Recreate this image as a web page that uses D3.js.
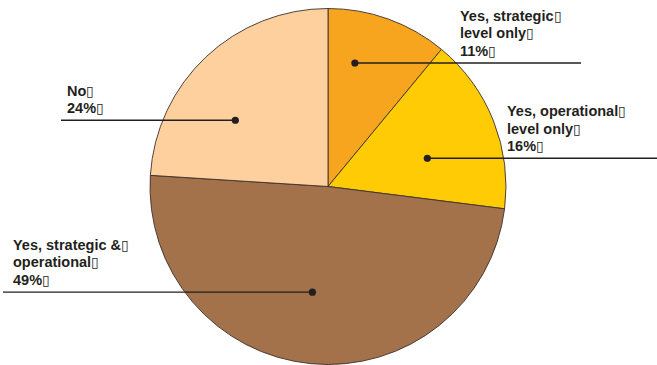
<!DOCTYPE html>
<html><head><meta charset="utf-8">
<script src="https://cdn.jsdelivr.net/npm/d3@7"></script>
<style>html,body{margin:0;padding:0;background:#fff;}svg{display:block;}</style>
</head><body><svg id="c" width="657" height="365"></svg>
<script>
const categories = ["Yes, strategic level only", "Yes, operational level only", "Yes, strategic & operational", "No"];
const values = [11, 16, 49, 24];
const labelLines = [
  ["Yes, strategic", "level only", "11%"],
  ["Yes, operational", "level only", "16%"],
  ["Yes, strategic &", "operational", "49%"],
  ["No", "24%"]
];
const colors = ["#F7A51E", "#FFCB05", "#A3714A", "#FDD09D"];

// layout of leader lines: position of dot inside slice (fraction of angle, fraction of radius),
// line end x, text x
const layout = [
  {fa: 0.31, fr: 0.71, lineEnd: 581, textX: 460},
  {fa: 0.60, fr: 0.58, lineEnd: 657, textX: 507},
  {fa: 0.517, fr: 0.60, lineEnd: 3, textX: 13},
  {fa: 0.37, fr: 0.64, lineEnd: 61, textX: 67}
];

const svg = d3.select("#c");
const cx = 328, cy = 186.5, r = 178;
const g = svg.append("g").attr("transform", `translate(${cx},${cy})`);
const pie = d3.pie().sort(null).value(d => d)(values);
const arc = d3.arc().innerRadius(0).outerRadius(r);

g.selectAll("path.s").data(pie).join("path")
  .attr("d", arc)
  .attr("fill", (d, i) => colors[i])
  .attr("stroke", "#3a3030")
  .attr("stroke-width", 0.9);

const ink = "#231F20";
pie.forEach((d, i) => {
  const L = layout[i];
  const a = d.startAngle + L.fa * (d.endAngle - d.startAngle);
  const rr = L.fr * r;
  const x = cx + rr * Math.sin(a), y = cy - rr * Math.cos(a);
  svg.append("line").attr("x1", x).attr("y1", y).attr("x2", L.lineEnd).attr("y2", y)
    .attr("stroke", ink).attr("stroke-width", 1.4);
  svg.append("circle").attr("cx", x).attr("cy", y).attr("r", 3.6).attr("fill", ink);
  const lines = labelLines[i];
  const t = svg.append("text")
    .attr("font-family", "Liberation Sans, Arial, sans-serif")
    .attr("font-weight", "bold").attr("font-size", 14.5).attr("fill", "#231F20");
  lines.forEach((s, j) => {
    const base = y - 7 - (lines.length - 1 - j) * 17.7;
    t.append("tspan").attr("x", L.textX).attr("y", base).text(s);
    t.append("tspan").attr("font-weight", "normal").attr("font-size", 14).text("\u25AF");
  });
});
</script></body></html>
